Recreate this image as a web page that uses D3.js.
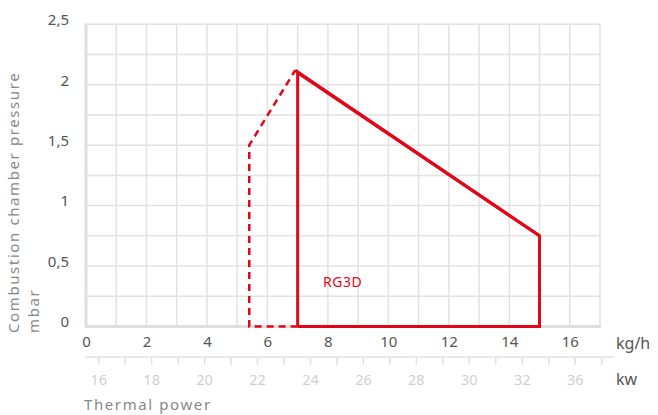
<!DOCTYPE html>
<html>
<head>
<meta charset="utf-8">
<script src="https://cdn.jsdelivr.net/npm/d3@7/dist/d3.min.js"></script>
<style>
  html, body { margin: 0; padding: 0; background: #fff; }
  svg { display: block; font-family: "Noto Sans", "Open Sans", sans-serif; }
</style>
</head>
<body>
<svg id="chart" width="658" height="415"></svg>
<script>
// Working field of the RG3D burner: pressure in the combustion chamber vs. fuel flow
const flowTicks = [0, 2, 4, 6, 8, 10, 12, 14, 16];          // kg/h
const pressureTicks = [0, 0.5, 1, 1.5, 2, 2.5];              // mbar
const pressureLabels = ["0", "0,5", "1", "1,5", "2", "2,5"];
const kwTicks = d3.range(16, 36);                            // minor ticks every kW
const kwLabelValues = [16, 18, 20, 22, 24, 26, 28, 30, 32, 34];
const kwLabels = ["16", "18", "20", "22", "24", "26", "28", "30", "32", "36"];

// Solid operating range (kg/h, mbar)
const solidFlow = [7, 7, 15, 15, 7];
const solidPressure = [0, 2.1, 0.75, 0, 0];
// Upper edge starts at the peak of the extended range
const peakFlow = [6.92, 15];
const peakPressure = [2.12, 0.75];
// Extended (dashed) range
const dashFlow = [7, 5.4, 5.4, 6.92];
const dashPressure = [0, 0, 1.5, 2.12];

const seriesName = "RG3D";
const red = "#e30618";

const svg = d3.select("#chart");
const x = d3.scaleLinear().domain([0, 17]).range([86, 600]);
const y = d3.scaleLinear().domain([0, 2.5]).range([326.5, 24.3]);
const kw = d3.scaleLinear().domain([16, 35]).range([98.7, 601.7]);

// Grid
const grid = svg.append("g").attr("stroke", "#e2e2e2").attr("stroke-width", 1.5);
grid.selectAll("line.v").data(d3.range(1, 18)).join("line")
  .attr("x1", d => x(d)).attr("x2", d => x(d))
  .attr("y1", y(2.5)).attr("y2", y(0));
grid.selectAll("line.h").data(d3.range(1, 11).map(i => i * 0.25)).join("line")
  .attr("x1", x(0)).attr("x2", x(17))
  .attr("y1", d => y(d)).attr("y2", d => y(d));

// Axis lines
svg.append("line").attr("x1", x(0)).attr("x2", x(0)).attr("y1", y(2.5) - 0.7).attr("y2", y(0) + 1.5)
  .attr("stroke", "#dedede").attr("stroke-width", 3);
svg.append("line").attr("x1", x(0)).attr("x2", x(17) + 1).attr("y1", y(0)).attr("y2", y(0))
  .attr("stroke", "#dedede").attr("stroke-width", 3);

// Y axis labels
const yAx = d3.axisLeft(y).tickValues(pressureTicks).tickSize(0)
  .tickFormat((d, i) => pressureLabels[i]);
const gy = svg.append("g").attr("transform", "translate(72,-4.5)").call(yAx);
gy.select(".domain").remove();
gy.selectAll("text").attr("fill", "#555").attr("font-size", 15).attr("font-family", "Noto Sans");

// Bottom axis: kg/h
const xAx = d3.axisBottom(x).tickValues(flowTicks).tickSize(0).tickFormat(d3.format("d"));
const gx = svg.append("g").attr("transform", "translate(0,333)").call(xAx);
gx.select(".domain").remove();
gx.selectAll("text").attr("fill", "#555").attr("font-size", 15).attr("font-family", "Noto Sans");
svg.append("text").attr("x", 616).attr("y", 349).attr("fill", "#555")
  .attr("font-size", 16).text("kg/h");

// Secondary axis: kW
svg.append("line").attr("x1", 85).attr("x2", 614).attr("y1", 357).attr("y2", 357)
  .attr("stroke", "#e2e2e2").attr("stroke-width", 1.5);
svg.append("g").selectAll("line").data(kwTicks).join("line")
  .attr("x1", d => kw(d)).attr("x2", d => kw(d)).attr("y1", 357).attr("y2", 365)
  .attr("stroke", "#e2e2e2").attr("stroke-width", 1.5);
svg.append("g").selectAll("text").data(kwLabelValues).join("text")
  .attr("x", d => kw(d)).attr("y", 384.5).attr("text-anchor", "middle")
  .attr("fill", "#cfcfcf").attr("font-size", 14.5)
  .text((d, i) => kwLabels[i]);
svg.append("text").attr("x", 616).attr("y", 385).attr("fill", "#555")
  .attr("font-size", 16).text("kw");

// Axis titles
svg.append("text").attr("transform", "translate(19,333) rotate(-90)")
  .attr("fill", "#888").attr("font-size", 15).attr("letter-spacing", 1.6)
  .text("Combustion chamber pressure");
svg.append("text").attr("transform", "translate(38.5,333) rotate(-90)")
  .attr("fill", "#888").attr("font-size", 15).attr("letter-spacing", 1.6)
  .text("mbar");
svg.append("text").attr("x", 84).attr("y", 410)
  .attr("fill", "#888").attr("font-size", 15).attr("letter-spacing", 1.6)
  .text("Thermal power");

// Range outlines
const line = d3.line().x(d => x(d[0])).y(d => y(d[1]));
svg.append("path").datum(d3.zip(dashFlow, dashPressure))
  .attr("d", line).attr("fill", "none").attr("stroke", red)
  .attr("stroke-width", 2.5).attr("stroke-dasharray", "7,5");
svg.append("path").datum(d3.zip(solidFlow, solidPressure))
  .attr("d", line).attr("fill", "none").attr("stroke", red)
  .attr("stroke-width", 3).attr("stroke-linejoin", "miter");
svg.append("path").datum(d3.zip(peakFlow, peakPressure))
  .attr("d", line).attr("fill", "none").attr("stroke", red)
  .attr("stroke-width", 3);

svg.append("text").attr("x", 323).attr("y", 287).attr("fill", red)
  .attr("font-size", 14).attr("letter-spacing", 0.5).text(seriesName);
</script>
</body>
</html>
